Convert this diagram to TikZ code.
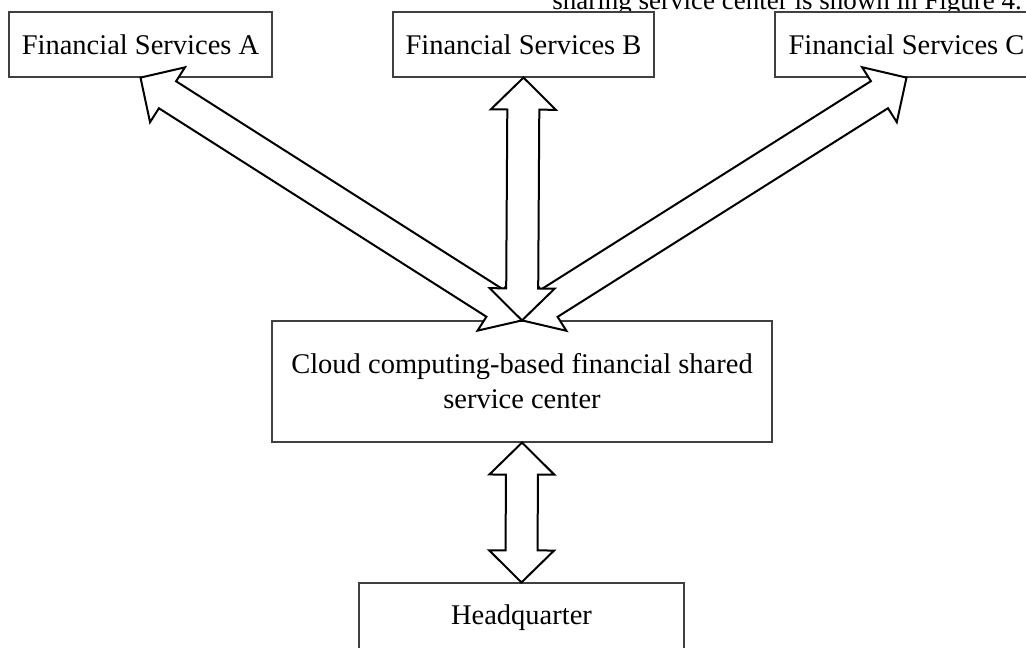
\documentclass[tikz,border=0pt]{standalone}
\usepackage{fontspec}
\setmainfont{Liberation Serif}
\usetikzlibrary{calc}
\tikzset{
  box/.style={draw=black!75, line width=1.2pt, fill=white, inner sep=0pt, font=\fontsize{28.5}{35}\selectfont},
  blk/.style={draw=black, line width=2pt, fill=white, line join=miter},
}
% block double arrow between two named points
\newcommand\blockarr[2]{%
  \filldraw[blk] (#1)
    -- ($(#1)!32pt!(#2)!32.5pt!90:(#2)$)
    -- ($(#1)!32pt!(#2)!16pt!90:(#2)$)
    -- ($(#2)!32pt!(#1)!16pt!-90:(#1)$)
    -- ($(#2)!32pt!(#1)!32.5pt!-90:(#1)$)
    -- (#2)
    -- ($(#2)!32pt!(#1)!32.5pt!90:(#1)$)
    -- ($(#2)!32pt!(#1)!16pt!90:(#1)$)
    -- ($(#1)!32pt!(#2)!16pt!-90:(#2)$)
    -- ($(#1)!32pt!(#2)!32.5pt!-90:(#2)$)
    -- cycle;}
\begin{document}
\begin{tikzpicture}[x=1pt, y=-1pt]
\useasboundingbox (0,0) rectangle (1026,648);
\node[anchor=base east, inner sep=0pt, font=\fontsize{27}{32}\selectfont] (cap) at (1022,9.5) {sharing service center is shown in Figure 4.};
\node[box, minimum width=263, minimum height=65] (A) at (140.5,44.5) {Financial Services A};
\node[box, minimum width=261, minimum height=65] (B) at (523.5,44.5) {Financial Services B};
\node[box, minimum width=263, minimum height=65] (C) at (906.5,44.5) {Financial Services C};
\node[box, minimum width=500, minimum height=121, align=center] (M) at (522,381.5) {Cloud computing-based financial shared\\service center};
\node[box, minimum width=325, minimum height=70] (H) at (521.5,618) {Headquarter};
\blockarr{A.south}{M.north}
\blockarr{C.south}{M.north}
\blockarr{B.south}{M.north}
\blockarr{M.south}{H.north}
\end{tikzpicture}
\end{document}
